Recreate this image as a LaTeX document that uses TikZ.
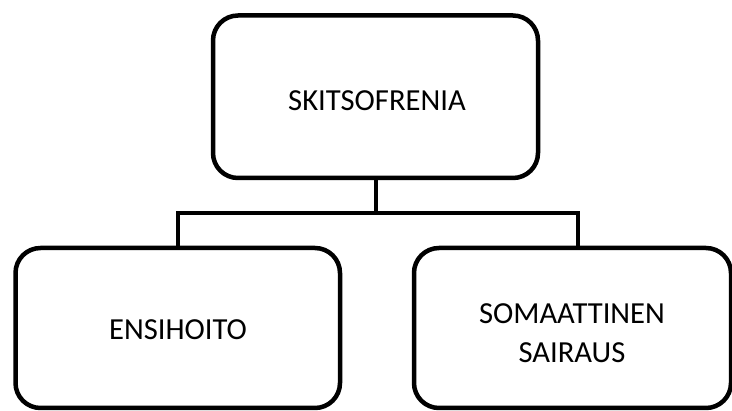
\documentclass[tikz,border=0pt]{standalone}
\usepackage{fontspec}
\setmainfont{Carlito}
\begin{document}
\begin{tikzpicture}[x=1pt,y=-1pt,
  box/.style={draw=black, line width=4.5pt, rounded corners=25pt, fill=white},
  label/.style={font=\fontsize{30.6}{39.5}\selectfont, align=center, text=black},
  link/.style={draw=black, line width=4.5pt}]
  \useasboundingbox (0,0) rectangle (732,411);
  % boxes
  \draw[box] (213,15.5) rectangle (538,178);
  \draw[box] (15.5,248) rectangle (340,408);
  \draw[box] (414,248) rectangle (731,408);
  % anchors for the tree connector
  \coordinate (top) at (376,178);
  \coordinate (lft) at (178,248);
  \coordinate (rgt) at (578,248);
  \node[label] (skitso) at (377,101) {SKITSOFRENIA};
  \node[label] (ensi) at (178,330) {ENSIHOITO};
  \node[label] (soma) at (572,333) {SOMAATTINEN\\SAIRAUS};
  % tree connector
  \draw[link] (top) -- (376,213) -| (lft);
  \draw[link] (376,213) -| (rgt);
\end{tikzpicture}
\end{document}
